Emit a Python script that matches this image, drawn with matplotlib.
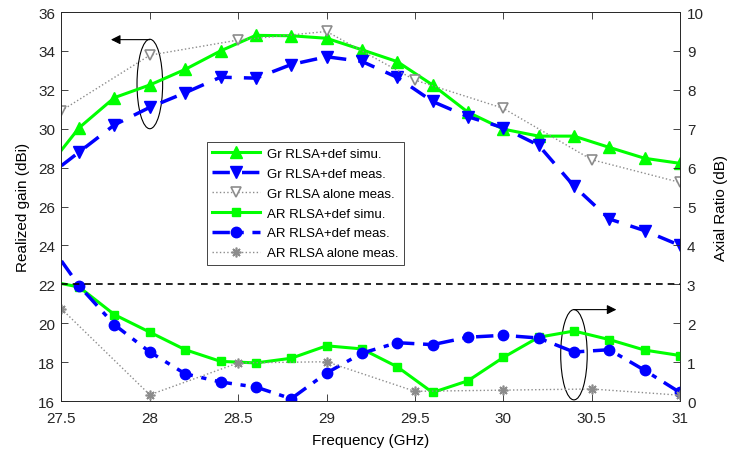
import matplotlib
matplotlib.use('agg')
import matplotlib.pyplot as plt
from matplotlib.patches import Ellipse

plt.rcParams['font.family'] = ['Liberation Sans', 'DejaVu Sans']
plt.rcParams['font.size'] = 10

# frequency grid (GHz)
freq = [27.5, 27.6, 27.8, 28.0, 28.2, 28.4, 28.6, 28.8, 29.0, 29.2, 29.4,
        29.6, 29.8, 30.0, 30.2, 30.4, 30.6, 30.8, 31.0]
freq_alone = [27.5, 28.0, 28.5, 29.0, 29.5, 30.0, 30.5, 31.0]

# realized gain (dBi)
gr_simu = [28.9, 30.05, 31.6, 32.25, 33.05, 34.0, 34.8, 34.78, 34.65, 34.06,
           33.45, 32.25, 30.85, 29.98, 29.62, 29.62, 29.04, 28.48, 28.22]
gr_meas = [28.1, 28.8, 30.2, 31.1, 31.85, 32.65, 32.6, 33.3, 33.7, 33.46,
           32.64, 31.4, 30.62, 30.05, 29.15, 27.05, 25.36, 24.76, 24.0]
gr_alone = [30.93, 33.78, 34.56, 35.0, 32.5, 31.05, 28.41, 27.24]

# axial ratio (dB)
ar_simu = [3.02, 2.93, 2.22, 1.77, 1.32, 1.02, 0.98, 1.1, 1.42, 1.34, 0.88,
           0.22, 0.52, 1.12, 1.64, 1.8, 1.58, 1.31, 1.17]
ar_meas = [3.6, 2.96, 1.96, 1.26, 0.7, 0.49, 0.36, 0.06, 0.72, 1.23, 1.5,
           1.45, 1.64, 1.69, 1.62, 1.26, 1.32, 0.79, 0.22]
ar_alone = [2.37, 0.16, 0.98, 1.01, 0.25, 0.28, 0.31, 0.15]
ar_limit = 3

green = (0, 1, 0)
blue = (0, 0, 1)
grey = (0.55, 0.55, 0.55)
axis_col = '#262626'

fig = plt.figure(figsize=(7.3, 4.6), dpi=100)
ax = fig.add_axes([0.0842, 0.126, 0.8473, 0.8457])
ax2 = ax.twinx()

skip_first = list(range(1, len(freq)))
l1, = ax.plot(freq, gr_simu, '-', color=green, lw=2.2, marker='^', ms=8,
              markevery=skip_first, label='Gr RLSA+def simu.')
l2, = ax.plot(freq, gr_meas, '--', color=blue, lw=2.5, marker='v', ms=8,
              dashes=(5, 3.5), markevery=skip_first,
              label='Gr RLSA+def meas.')
l3, = ax.plot(freq_alone, gr_alone, ':', color=grey, lw=1, marker='v', ms=7,
              mfc='white', mec=grey, mew=1.2, label='Gr RLSA alone meas.')

l4, = ax2.plot(freq, ar_simu, '-', color=green, lw=2.2, marker='s', ms=5.5,
               markevery=skip_first, label='AR RLSA+def simu.')
l5, = ax2.plot(freq, ar_meas, color=blue, lw=2.5, marker='o', ms=7.5,
               dashes=(5, 2.5, 1.5, 2.5), markevery=skip_first,
               label='AR RLSA+def meas.')
l6, = ax2.plot(freq_alone, ar_alone, ':', color=grey, lw=1, marker=(8, 2, 0),
               ms=7, mec=grey, mew=1.2, label='AR RLSA alone meas.')
ax2.axhline(ar_limit, color='black', lw=1.2, dashes=(4, 3))

# left ellipse + arrow pointing to gain axis
ax.add_patch(Ellipse((28.0, 32.3), 0.145, 4.6, fill=False, ec='black', lw=0.8))
ax.annotate('', xy=(27.78, 34.58), xytext=(28.0, 34.58),
            arrowprops=dict(arrowstyle='-|>', color='black', lw=0.8,
                            mutation_scale=14, shrinkA=0, shrinkB=0))
# right ellipse + arrow pointing to axial ratio axis
ax2.add_patch(Ellipse((30.4, 1.19), 0.15, 2.32, fill=False, ec='black', lw=0.8))
ax2.annotate('', xy=(30.64, 2.35), xytext=(30.4, 2.35),
             arrowprops=dict(arrowstyle='-|>', color='black', lw=0.8,
                             mutation_scale=14, shrinkA=0, shrinkB=0))

ax.set_xlim(27.5, 31)
ax.set_ylim(16, 36)
ax2.set_ylim(0, 10)
ax.set_xticks([27.5, 28, 28.5, 29, 29.5, 30, 30.5, 31])
ax.set_xticklabels(['27.5', '28', '28.5', '29', '29.5', '30', '30.5', '31'])
ax.set_yticks(range(16, 37, 2))
ax2.set_yticks(range(0, 11))

ax.tick_params(axis='y', direction='in', length=5, width=0.6, labelsize=11,
               colors=axis_col, pad=4.5)
ax.tick_params(axis='x', direction='in', top=True, length=5, width=0.6,
               labelsize=11, colors=axis_col, pad=7)
ax2.tick_params(direction='in', length=5, width=0.6, labelsize=11,
                colors=axis_col, pad=5)
for a in (ax, ax2):
    for s in a.spines.values():
        s.set_linewidth(0.6)
        s.set_color(axis_col)

ax.set_xlabel('Frequency (GHz)', fontsize=11, labelpad=6)
ax.set_ylabel('Realized gain (dBi)', fontsize=11, labelpad=6)
ax2.set_ylabel('Axial Ratio (dB)', fontsize=11, labelpad=7)

leg = ax2.legend(handles=[l1, l2, l3, l4, l5, l6], loc='upper left',
                 bbox_to_anchor=(0.235, 0.665), fontsize=9.5,
                 frameon=True, fancybox=False, framealpha=1,
                 edgecolor=axis_col, handlelength=3.6, handletextpad=0.55,
                 borderpad=0.4, labelspacing=0.58, borderaxespad=0)
leg.get_frame().set_linewidth(0.6)

fig.savefig('out.png', dpi=100)
